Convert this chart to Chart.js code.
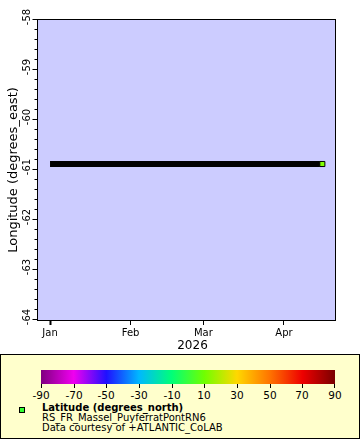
<!DOCTYPE html>
<html>
<head>
<meta charset="utf-8">
<script src="https://cdn.jsdelivr.net/npm/chart.js@4.4.1/dist/chart.umd.min.js"></script>
<style>
html,body{margin:0;padding:0;background:#fff;}
body{width:360px;height:440px;position:relative;overflow:hidden;font-family:"DejaVu Sans",sans-serif;color:#000;}
#wrap{position:absolute;left:0;top:0;width:360px;height:440px;}
#legend{position:absolute;left:0;top:354px;width:360px;height:85px;box-sizing:border-box;border:1px solid #000;background:#ffffcc;}
#cbar{position:absolute;left:40px;top:15px;width:294px;height:14px;}
.ctick{position:absolute;top:29px;width:1px;height:4px;background:#000;}
.clab{position:absolute;top:34px;font-size:10.5px;line-height:12px;width:40px;text-align:center;white-space:nowrap;}
#lmark{position:absolute;left:18px;top:52px;width:6px;height:6px;box-sizing:border-box;border:1px solid #000;background:#33ff33;}
#ltext{position:absolute;left:41px;top:48px;font-size:10px;line-height:10px;white-space:nowrap;}
</style>
</head>
<body>
<div id="wrap"><canvas id="c" width="360" height="440"></canvas></div>
<div id="legend">
  <div id="cbar"></div>
  <div id="lmark"></div>
  <div id="ltext"><b id="lt1"></b><br><span id="lt2"></span><br><span id="lt3"></span></div>
</div>
<script>
// ---- data ----
const sampleTimes = ['2026-01-01T00:00','2026-01-15T00:00','2026-02-01T00:00','2026-02-15T00:00','2026-03-01T00:00','2026-03-15T00:00','2026-04-01T00:00','2026-04-15T18:00'];
const longitudeValues = [-60.88,-60.88,-60.88,-60.88,-60.88,-60.88,-60.88,-60.88];
const xTickDates = ['2026-01-01T00:00','2026-02-01T00:00','2026-03-01T00:00','2026-04-01T00:00'];
const xTickLabels = ['Jan','Feb','Mar','Apr'];
const xAxisTitle = '2026';
const xRange = ['2025-12-27T09:00','2026-04-20T15:00'];
const yTickValues = [-58,-59,-60,-61,-62,-63,-64];
const yTickLabels = ['-58','-59','-60','-61','-62','-63','-64'];
const yMin = -64, yMax = -58, yMinorStep = 0.2;
const yAxisTitle = 'Longitude (degrees_east)';
const colorbarLabels = ['-90','-70','-50','-30','-10','10','30','50','70','90'];
const colorbarColors = ['#800080','#f000f0','#1f10ff','#00b8ff','#00ff78','#70ff00','#ffd800','#ff7400','#ee0000','#7a0000'];
const legendTitle = 'Latitude (degrees_north)';
const legendLine2 = 'RS_FR_Massel_PuyferratPontRN6';
const legendLine3 = 'Data courtesy of +ATLANTIC_CoLAB';
const markerColor = '#80ff00';

// ---- helpers ----
const origin = Date.parse('2026-01-01T00:00Z');
const toDay = s => (Date.parse(s + 'Z') - origin) / 86400000;
const points = sampleTimes.map((t, i) => ({x: toDay(t), y: longitudeValues[i]}));
const xTickDays = xTickDates.map(toDay);
const lastIdx = points.length - 1;

const framePlugin = {
  id: 'frame',
  beforeDatasetsDraw(chart) {
    const {ctx, chartArea: a} = chart;
    ctx.save();
    ctx.fillStyle = '#ccccff';
    ctx.fillRect(a.left, a.top, a.right - a.left, a.bottom - a.top);
    ctx.restore();
  },
  afterDatasetsDraw(chart) {
    const {ctx, chartArea: a} = chart;
    const ys = chart.scales.y;
    ctx.save();
    ctx.strokeStyle = '#000';
    ctx.lineWidth = 1;
    ctx.strokeRect(Math.round(a.left) - 0.5, Math.round(a.top) - 0.5, Math.round(a.right - a.left) + 1, Math.round(a.bottom - a.top) + 1);
    // y ticks (major + minor)
    const n = Math.round((yMax - yMin) / yMinorStep);
    ctx.beginPath();
    for (let i = 0; i <= n; i++) {
      const v = yMin + i * yMinorStep;
      const py = Math.round(ys.getPixelForValue(v)) - 0.5;
      const len = (i % 5 === 0) ? 5 : 3;
      ctx.moveTo(Math.round(a.left) - len - 0.5, py);
      ctx.lineTo(Math.round(a.left) - 0.5, py);
    }
    ctx.stroke();
    // y tick labels rotated
    ctx.fillStyle = '#000';
    ctx.font = '10px "DejaVu Sans"';
    ctx.textAlign = 'center';
    ctx.textBaseline = 'middle';
    yTickValues.forEach((v, i) => {
      const py = ys.getPixelForValue(v) - 3;
      ctx.save();
      ctx.translate(a.left - 10.5, py);
      ctx.rotate(-Math.PI / 2);
      ctx.fillText(yTickLabels[i], 0, 0);
      ctx.restore();
    });
    // x axis title
    ctx.font = '12px "DejaVu Sans"';
    ctx.textBaseline = 'middle';
    ctx.fillText(xAxisTitle, (a.left + a.right) / 2 + 6, a.bottom + 26);
    ctx.restore();
  }
};

new Chart(document.getElementById('c'), {
  type: 'line',
  data: {
    datasets: [{
      data: points,
      borderColor: '#000',
      borderWidth: 6,
      borderCapStyle: 'butt',
      fill: false,
      tension: 0,
      pointStyle: 'rect',
      pointRadius: ctx => ctx.dataIndex === lastIdx ? 3.6 : 0,
      pointHoverRadius: 0,
      pointBackgroundColor: markerColor,
      pointBorderColor: '#000',
      pointBorderWidth: 1
    }]
  },
  options: {
    responsive: false,
    animation: false,
    events: [],
    layout: {padding: {left: 0, top: 20, right: 25, bottom: 84}},
    plugins: {legend: {display: false}, tooltip: {enabled: false}},
    scales: {
      x: {
        type: 'linear',
        min: toDay(xRange[0]),
        max: toDay(xRange[1]),
        afterBuildTicks: s => { s.ticks = xTickDays.map(v => ({value: v})); },
        afterFit: s => { s.height = 36; },
        ticks: {
          autoSkip: false, maxRotation: 0, minRotation: 0,
          color: '#000', padding: 2,
          font: {family: 'DejaVu Sans', size: 10},
          callback: (v, i) => xTickLabels[i]
        },
        grid: {display: true, drawOnChartArea: false, drawTicks: true, tickLength: 5, tickColor: '#000', tickWidth: c => c.index === 0 ? 2 : 1},
        border: {display: false},
        title: {display: false}
      },
      y: {
        type: 'linear',
        min: yMin, max: yMax,
        afterFit: s => { s.width = 38; },
        ticks: {display: false},
        grid: {display: false},
        border: {display: false},
        title: {display: true, text: yAxisTitle, color: '#000', font: {family: 'DejaVu Sans', size: 13}, padding: {top: 6, bottom: 0}}
      }
    }
  },
  plugins: [framePlugin]
});

// ---- legend ----
const cbar = document.getElementById('cbar');
cbar.style.background = 'linear-gradient(to right,' + colorbarColors.map((c, i) => c + ' ' + (i * 100 / (colorbarColors.length - 1)).toFixed(2) + '%').join(',') + ')';
const legend = document.getElementById('legend');
colorbarLabels.forEach((lab, i) => {
  const x = 40 + Math.round(i * 294 / (colorbarLabels.length - 1));
  const t = document.createElement('div');
  t.className = 'ctick';
  t.style.left = (Math.min(x, 333)) + 'px';
  legend.appendChild(t);
  const l = document.createElement('div');
  l.className = 'clab';
  l.style.left = (x - 20) + 'px';
  l.textContent = lab;
  legend.appendChild(l);
});
document.getElementById('lt1').textContent = legendTitle;
document.getElementById('lt2').textContent = legendLine2;
document.getElementById('lt3').textContent = legendLine3;
</script>
</body>
</html>
